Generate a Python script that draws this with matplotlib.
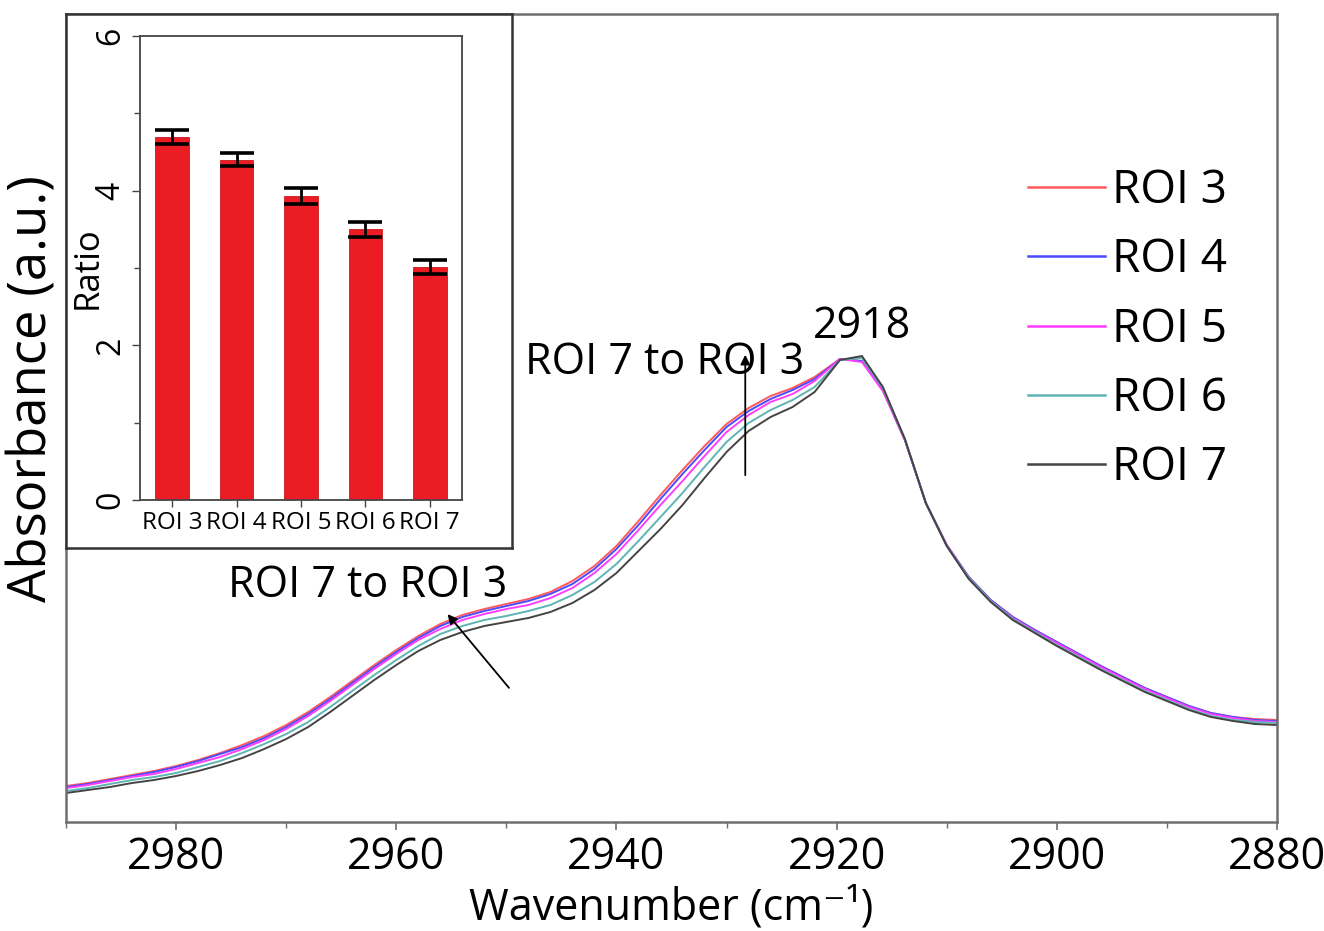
import matplotlib
matplotlib.use('Agg')
import matplotlib.pyplot as plt
from matplotlib.ticker import MultipleLocator

plt.rcParams['font.family'] = ['Open Sans', 'DejaVu Sans']

# ---------------- data ----------------
wavenumber = [2990, 2988, 2986, 2984, 2982, 2980, 2978, 2976, 2974, 2972, 2970, 2968,
              2966, 2964, 2962, 2960, 2958, 2956, 2954, 2952, 2950, 2948, 2946, 2944,
              2942, 2940, 2938, 2936, 2934, 2932, 2930, 2928, 2926, 2924, 2922,
              2919.7, 2917.7, 2915.8, 2913.8, 2911.9,
              2910, 2908, 2906, 2904, 2902, 2900, 2898, 2896, 2894, 2892, 2890, 2888,
              2886, 2884, 2882, 2880]

roi3 = [0.036, 0.039, 0.043, 0.047, 0.051, 0.056, 0.062, 0.069, 0.077, 0.086, 0.097, 0.110,
        0.125, 0.141, 0.157, 0.172, 0.186, 0.198, 0.207, 0.213, 0.218, 0.223, 0.230, 0.241,
        0.256, 0.276, 0.301, 0.327, 0.352, 0.376, 0.398, 0.414, 0.426, 0.434, 0.445,
        0.463, 0.461, 0.432, 0.382, 0.319,
        0.277, 0.245, 0.222, 0.205, 0.192, 0.180, 0.168, 0.156, 0.145, 0.134, 0.125, 0.116,
        0.109, 0.105, 0.103, 0.102]
roi4 = [0.035, 0.038, 0.042, 0.046, 0.050, 0.055, 0.061, 0.068, 0.075, 0.084, 0.095, 0.108,
        0.123, 0.139, 0.155, 0.170, 0.184, 0.196, 0.205, 0.211, 0.216, 0.221, 0.228, 0.238,
        0.253, 0.273, 0.297, 0.323, 0.348, 0.372, 0.395, 0.411, 0.423, 0.432, 0.443,
        0.463, 0.461, 0.432, 0.382, 0.319,
        0.277, 0.245, 0.222, 0.205, 0.192, 0.180, 0.168, 0.156, 0.145, 0.134, 0.125, 0.116,
        0.109, 0.105, 0.102, 0.101]
roi5 = [0.034, 0.037, 0.041, 0.045, 0.048, 0.053, 0.059, 0.065, 0.073, 0.082, 0.093, 0.106,
        0.121, 0.137, 0.153, 0.168, 0.182, 0.193, 0.202, 0.208, 0.213, 0.217, 0.224, 0.234,
        0.249, 0.268, 0.292, 0.317, 0.341, 0.366, 0.390, 0.407, 0.420, 0.428, 0.441,
        0.463, 0.460, 0.431, 0.382, 0.319,
        0.277, 0.244, 0.221, 0.204, 0.191, 0.179, 0.167, 0.155, 0.144, 0.133, 0.124, 0.115,
        0.108, 0.104, 0.101, 0.100]
roi6 = [0.031, 0.034, 0.038, 0.042, 0.045, 0.049, 0.055, 0.061, 0.069, 0.078, 0.088, 0.100,
        0.115, 0.131, 0.147, 0.162, 0.176, 0.188, 0.196, 0.202, 0.206, 0.211, 0.217, 0.227,
        0.240, 0.258, 0.281, 0.305, 0.329, 0.355, 0.380, 0.399, 0.412, 0.422, 0.435,
        0.462, 0.464, 0.434, 0.383, 0.319,
        0.276, 0.244, 0.221, 0.203, 0.190, 0.177, 0.165, 0.153, 0.142, 0.131, 0.122, 0.113,
        0.106, 0.102, 0.100, 0.099]
roi7 = [0.029, 0.032, 0.035, 0.039, 0.042, 0.046, 0.051, 0.057, 0.064, 0.073, 0.083, 0.095,
        0.110, 0.126, 0.142, 0.157, 0.171, 0.182, 0.190, 0.196, 0.200, 0.204, 0.210, 0.219,
        0.232, 0.249, 0.271, 0.293, 0.317, 0.344, 0.370, 0.391, 0.405, 0.415, 0.430,
        0.462, 0.466, 0.435, 0.383, 0.319,
        0.276, 0.243, 0.220, 0.202, 0.189, 0.176, 0.164, 0.152, 0.141, 0.130, 0.121, 0.112,
        0.105, 0.101, 0.098, 0.097]

series_labels = ['ROI 3', 'ROI 4', 'ROI 5', 'ROI 6', 'ROI 7']
series_colors = ['#ff5a5a', '#4b4bff', '#ff3cff', '#5fb4b4', '#444444']

ratio_categories = ['ROI 3', 'ROI 4', 'ROI 5', 'ROI 6', 'ROI 7']
ratio_values = [4.69, 4.40, 3.93, 3.50, 3.01]
ratio_errors = [0.09, 0.085, 0.10, 0.10, 0.09]

main_xticks = [2980, 2960, 2940, 2920, 2900, 2880]
inset_yticks = [0, 2, 4, 6]

# ---------------- layout ----------------
W, H = 1324, 931
fig = plt.figure(figsize=(W / 100, H / 100), dpi=100)


def rect(l, t, r, b):
    return [l / W, 1 - b / H, (r - l) / W, (b - t) / H]


spine_col = '#6e6e6e'
ax = fig.add_axes(rect(66, 14, 1277, 822))
series = [roi3, roi4, roi5, roi6, roi7]
for name, ys, c in zip(series_labels, series, series_colors):
    ax.plot(wavenumber, ys, color=c, lw=1.4, label=name)

ax.set_xlim(2990, 2880)
ax.set_ylim(0, 0.808)
ax.set_yticks([])
ax.set_xticks(main_xticks)
ax.set_xticklabels([str(t) for t in main_xticks])
ax.xaxis.set_minor_locator(MultipleLocator(10))
ax.tick_params(axis='x', which='major', direction='out', length=6, width=1.2,
               color=spine_col, labelsize=31, pad=4)
ax.tick_params(axis='x', which='minor', direction='out', length=4, width=1.0, color=spine_col)
for s in ax.spines.values():
    s.set_color(spine_col)
    s.set_linewidth(1.8)

ax.set_xlabel('Wavenumber (cm⁻¹)', fontsize=31, labelpad=4)
ax.set_ylabel('Absorbance (a.u.)', fontsize=38)
ax.yaxis.set_label_coords(-0.005, 0.537)

leg = ax.legend(loc='upper left', bbox_to_anchor=(1028 / W, 1 - 168 / H),
                bbox_transform=fig.transFigure, frameon=False, fontsize=33,
                handlelength=1.68, handletextpad=0.15, labelspacing=0.51,
                borderaxespad=0, borderpad=0)
for h in leg.get_lines():
    h.set_linewidth(1.8)

# annotations
ax.annotate('', xy=(2928.3, 0.470), xytext=(2928.3, 0.344),
            arrowprops=dict(arrowstyle='-|>', color='black', lw=1.3, mutation_scale=14))
ax.annotate('', xy=(2955.5, 0.210), xytext=(2949.6, 0.132),
            arrowprops=dict(arrowstyle='-|>', color='black', lw=1.3, mutation_scale=14))
ax.text(2935.6, 0.459, 'ROI 7 to ROI 3', fontsize=31, ha='center', va='center')
ax.text(2962.6, 0.236, 'ROI 7 to ROI 3', fontsize=31, ha='center', va='center')
ax.text(2917.7, 0.495, '2918', fontsize=31, ha='center', va='center')

# inset box
box = fig.add_axes(rect(66, 14, 512, 548))
box.set_xticks([])
box.set_yticks([])
for s in box.spines.values():
    s.set_color('#333333')
    s.set_linewidth(1.8)

ax2 = fig.add_axes(rect(140, 36, 462, 500))
pos = list(range(len(ratio_categories)))
ax2.bar(pos, ratio_values, width=0.52, color='#ec1c24', edgecolor='#c81a20', linewidth=0.6,
        yerr=ratio_errors, capsize=12,
        error_kw=dict(ecolor='black', elinewidth=2.0, capthick=2.6))
ax2.set_xlim(-0.5, 4.5)
ax2.set_ylim(0, 6)
ax2.set_xticks(pos)
ax2.set_xticklabels(ratio_categories)
ax2.set_yticks(inset_yticks)
ax2.yaxis.set_minor_locator(MultipleLocator(1))
ax2.tick_params(axis='x', direction='out', length=5, width=1.0, color='#444444',
                labelsize=17.5, pad=3)
ax2.tick_params(axis='y', which='major', direction='out', length=6, width=1.0,
                color='#444444', labelsize=23, labelrotation=90, pad=3)
ax2.tick_params(axis='y', which='minor', direction='out', length=4, width=1.0, color='#444444')
for lab in ax2.get_yticklabels():
    lab.set_va('center')
ax2.set_ylabel('Ratio', fontsize=25)
ax2.yaxis.set_label_coords(-0.11, 0.5)
for s in ax2.spines.values():
    s.set_color('#444444')
    s.set_linewidth(1.3)

fig.savefig('out.png', dpi=100)
